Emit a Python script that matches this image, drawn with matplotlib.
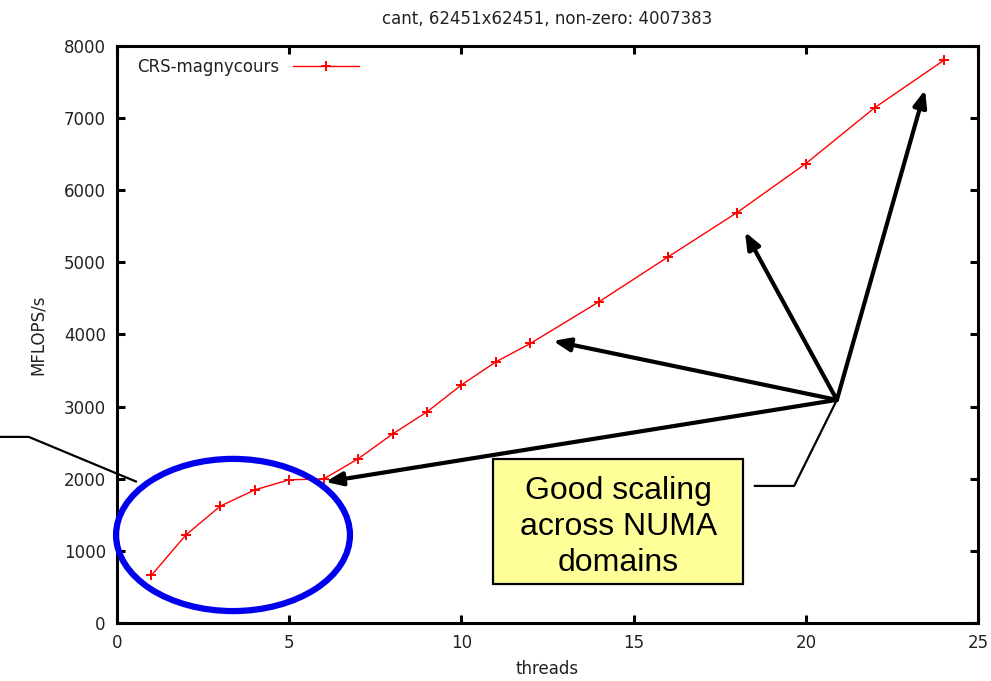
import matplotlib
matplotlib.use("Agg")
import matplotlib.pyplot as plt
from matplotlib.patches import Ellipse, Rectangle

# data
threads = [1, 2, 3, 4, 5, 6, 7, 8, 9, 10, 11, 12, 14, 16, 18, 20, 22, 24]
mflops = [660, 1220, 1620, 1845, 1985, 1997, 2275, 2620, 2926, 3300, 3620,
          3875, 4455, 5076, 5690, 6370, 7145, 7800]

title = "cant, 62451x62451, non-zero: 4007383"
series_name = "CRS-magnycours"
note = "Good scaling\nacross NUMA\ndomains"

# arrow hub and targets (data coords)
hub = (20.9, 3093)
targets = [(6.05, 1956), (12.66, 3911), (18.23, 5423), (23.46, 7392)]

fig = plt.figure(figsize=(9.91, 6.81), dpi=100)
ax = fig.add_axes([0.118, 0.0852, 0.869, 0.8473])

ax.plot(threads, mflops, color="red", lw=1, marker="+", ms=7, mew=1.4,
        label=series_name)

ax.set_xlim(0, 25)
ax.set_ylim(0, 8000)
ax.set_xticks(range(0, 26, 5))
ax.set_yticks(range(0, 8001, 1000))
ax.tick_params(direction="in", length=6, width=2.2, top=True, right=True,
               labelsize=12, labelcolor="#222222", pad=8)
for s in ax.spines.values():
    s.set_linewidth(2.2)

ax.set_title(title, fontsize=12, color="#222222", pad=16)
ax.set_xlabel("threads", fontsize=12, color="#222222", labelpad=6)
ax.set_ylabel("MFLOPS/s", fontsize=12, color="#222222", labelpad=12)

leg = ax.legend(loc="upper left", frameon=False, markerfirst=False,
                fontsize=12, handlelength=4, borderaxespad=0.3,
                bbox_to_anchor=(0.01, 1.0))
for t in leg.get_texts():
    t.set_color("#222222")

# blue ellipse round the first threads
ax.add_patch(Ellipse((3.37, 1220), 6.79, 2110, fill=False,
                     edgecolor="#0000ee", lw=4.5, clip_on=False, zorder=5))

# callout line on the left
ax.plot([-3.45, -2.56, 0.58], [2580, 2580, 1956], color="black", lw=1.6,
        clip_on=False, solid_capstyle="butt")

# yellow note box
ax.add_patch(Rectangle((10.92, 541), 7.26, 1734, facecolor="#ffff99",
                       edgecolor="black", lw=1.6, zorder=6))
ax.text(14.55, 1330, note, ha="center", va="center", fontsize=23,
        family="Liberation Sans", linespacing=1.25, zorder=7)

# line from box to the hub
ax.plot([18.52, 19.66, hub[0]], [1900, 1900, hub[1]], color="black", lw=1.6)

for tx, ty in targets:
    ax.annotate("", xy=(tx, ty), xytext=hub,
                arrowprops=dict(arrowstyle="-|>,head_length=1.0,head_width=0.4",
                                color="black", lw=3, shrinkA=0, shrinkB=0),
                zorder=8)

fig.savefig("out.png", dpi=100)
